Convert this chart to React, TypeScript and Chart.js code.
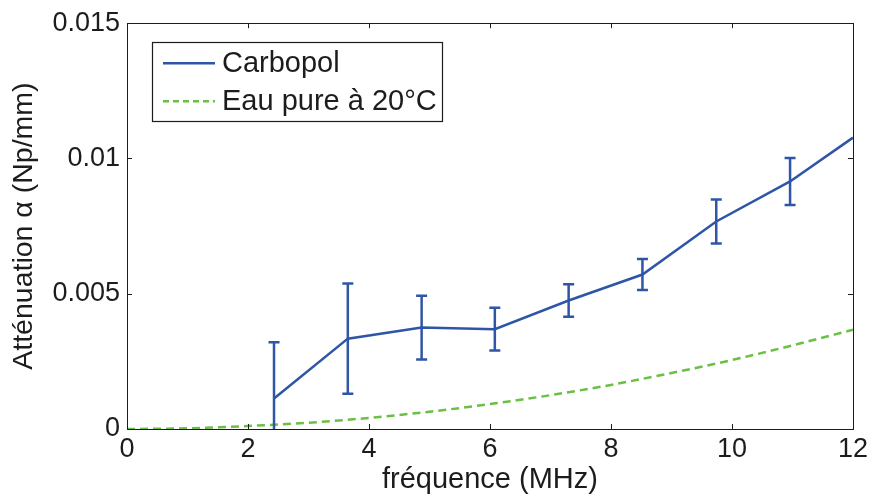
import React, { useEffect, useRef } from "react";
import { Chart, registerables } from "chart.js";

Chart.register(...registerables);

// ---- Data ----
const carbopolFreq = [2.43, 3.65, 4.87, 6.08, 7.3, 8.52, 9.74, 10.96, 12.0];
const carbopolAtt = [0.00113, 0.00334, 0.00375, 0.00369, 0.00475, 0.00571, 0.00767, 0.00915, 0.01077];
const carbopolErr = [0.00208, 0.00204, 0.00118, 0.00079, 0.0006, 0.00057, 0.00081, 0.00087, 0];

const waterFreq = [0, 1, 2, 3, 4, 5, 6, 7, 8, 9, 10, 11, 12];
const waterAtt = [0, 0.000026, 0.00011, 0.00023, 0.00041, 0.00064, 0.00092, 0.00125, 0.00163, 0.00207, 0.00255, 0.00309, 0.00367];

const xTickValues = [0, 2, 4, 6, 8, 10, 12];
const yTickValues = [0, 0.005, 0.01, 0.015];
const yTickLabels = ["0", "0.005", "0.01", "0.015"];

const seriesNames = ["Carbopol", "Eau pure à 20°C"];
const xTitle = "fréquence (MHz)";
const yTitle = "Atténuation α (Np/mm)";

const BLUE = "#2f55a6";
const GREEN = "#6cbf45";
const INK = "#1c1c1c";
const FONT = "'Liberation Sans', Arial, Helvetica, sans-serif";

export default function App() {
  const ref = useRef<HTMLCanvasElement | null>(null);

  useEffect(() => {
    const canvas = ref.current;
    if (!canvas) return;

    const errorBars = {
      id: "errorBars",
      afterDatasetsDraw(chart: any) {
        const { ctx, chartArea, scales } = chart;
        const xs = scales.x;
        const ys = scales.y;
        ctx.save();
        ctx.beginPath();
        ctx.rect(chartArea.left, chartArea.top, chartArea.right - chartArea.left, chartArea.bottom - chartArea.top);
        ctx.clip();
        ctx.strokeStyle = BLUE;
        ctx.lineWidth = 2.5;
        const cap = 5.5;
        carbopolFreq.forEach((f, i) => {
          const e = carbopolErr[i];
          if (!e) return;
          const px = xs.getPixelForValue(f);
          const top = ys.getPixelForValue(carbopolAtt[i] + e);
          const bot = ys.getPixelForValue(carbopolAtt[i] - e);
          ctx.beginPath();
          ctx.moveTo(px, top);
          ctx.lineTo(px, bot);
          ctx.moveTo(px - cap, top);
          ctx.lineTo(px + cap, top);
          ctx.moveTo(px - cap, bot);
          ctx.lineTo(px + cap, bot);
          ctx.stroke();
        });
        ctx.restore();
      },
    };

    const frameAndLegend = {
      id: "frameAndLegend",
      afterDraw(chart: any) {
        const { ctx, chartArea, scales } = chart;
        const { left, right, top, bottom } = chartArea;
        ctx.save();
        ctx.strokeStyle = INK;
        ctx.lineWidth = 1;
        // box
        ctx.strokeRect(Math.round(left) + 0.5, Math.round(top) + 0.5, Math.round(right - left), Math.round(bottom - top));
        // ticks
        const tl = 5;
        ctx.beginPath();
        xTickValues.forEach((v) => {
          const px = Math.round(scales.x.getPixelForValue(v)) + 0.5;
          ctx.moveTo(px, bottom);
          ctx.lineTo(px, bottom - tl);
          ctx.moveTo(px, top);
          ctx.lineTo(px, top + tl);
        });
        yTickValues.forEach((v) => {
          const py = Math.round(scales.y.getPixelForValue(v)) + 0.5;
          ctx.moveTo(left, py);
          ctx.lineTo(left + tl, py);
          ctx.moveTo(right, py);
          ctx.lineTo(right - tl, py);
        });
        ctx.stroke();

        // legend
        const lx = left + 25;
        const ly = top + 19;
        const lw = 290;
        const lh = 79;
        ctx.fillStyle = "#ffffff";
        ctx.fillRect(lx, ly, lw, lh);
        ctx.strokeStyle = INK;
        ctx.lineWidth = 1.2;
        ctx.strokeRect(Math.round(lx) + 0.5, Math.round(ly) + 0.5, lw, lh);
        const rows = [ly + 21, ly + 59];
        const colors = [BLUE, GREEN];
        const dashes = [[], [6, 4]];
        rows.forEach((ry, i) => {
          ctx.strokeStyle = colors[i];
          ctx.lineWidth = 2.5;
          ctx.setLineDash(dashes[i]);
          ctx.beginPath();
          ctx.moveTo(lx + 11, ry);
          ctx.lineTo(lx + 63, ry);
          ctx.stroke();
          ctx.setLineDash([]);
          ctx.fillStyle = INK;
          ctx.font = `29px ${FONT}`;
          ctx.textBaseline = "middle";
          ctx.textAlign = "left";
          ctx.fillText(seriesNames[i], lx + 70, ry + 1);
        });
        ctx.restore();
      },
    };

    const chart = new Chart(canvas, {
      type: "scatter",
      data: {
        datasets: [
          {
            label: seriesNames[0],
            data: carbopolFreq.map((f, i) => ({ x: f, y: carbopolAtt[i] })),
            showLine: true,
            borderColor: BLUE,
            backgroundColor: BLUE,
            borderWidth: 2.5,
            pointRadius: 0,
            tension: 0,
          },
          {
            label: seriesNames[1],
            data: waterFreq.map((f, i) => ({ x: f, y: waterAtt[i] })),
            showLine: true,
            borderColor: GREEN,
            backgroundColor: GREEN,
            borderWidth: 2.5,
            borderDash: [8, 5],
            pointRadius: 0,
            cubicInterpolationMode: "monotone",
          },
        ],
      },
      options: {
        responsive: false,
        animation: false,
        devicePixelRatio: 1,
        layout: { padding: { top: 23, right: 17, left: 0, bottom: 0 } },
        plugins: { legend: { display: false }, tooltip: { enabled: false } },
        scales: {
          x: {
            type: "linear",
            min: 0,
            max: 12,
            afterFit: (s: any) => {
              s.height = 68;
            },
            afterBuildTicks: (s: any) => {
              s.ticks = xTickValues.map((v) => ({ value: v }));
            },
            grid: { display: false, drawTicks: false },
            border: { display: false },
            ticks: {
              color: INK,
              font: { family: FONT, size: 27 },
              padding: 4,
              maxRotation: 0,
              autoSkip: false,
              callback: (v: any) => String(v),
            },
            title: {
              display: true,
              text: xTitle,
              color: INK,
              font: { family: FONT, size: 29 },
              padding: { top: 0, bottom: 0 },
            },
          },
          y: {
            type: "linear",
            min: 0,
            max: 0.015,
            afterFit: (s: any) => {
              s.width = 127;
            },
            afterBuildTicks: (s: any) => {
              s.ticks = yTickValues.map((v) => ({ value: v }));
            },
            grid: { display: false, drawTicks: false },
            border: { display: false },
            ticks: {
              color: INK,
              font: { family: FONT, size: 27 },
              padding: 7,
              autoSkip: false,
              callback: (v: any) => {
                const i = yTickValues.findIndex((t) => Math.abs(t - v) < 1e-9);
                return i >= 0 ? yTickLabels[i] : "";
              },
            },
            title: {
              display: true,
              text: yTitle,
              color: INK,
              font: { family: FONT, size: 28.5 },
              padding: { top: 7, bottom: 0 },
            },
          },
        },
      },
      plugins: [errorBars, frameAndLegend],
    } as any);

    return () => chart.destroy();
  }, []);

  return (
    <div style={{ position: "fixed", left: 0, top: 0, width: 872, height: 497, background: "#fff" }}>
      <canvas ref={ref} width={872} height={497} />
    </div>
  );
}
